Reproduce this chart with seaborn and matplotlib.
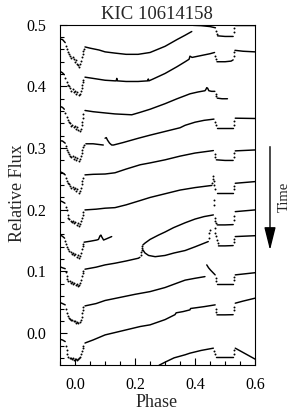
import pandas as pd
import matplotlib.pyplot as plt
from matplotlib.ticker import MultipleLocator, FormatStrFormatter
import seaborn as sns

plt.switch_backend('Agg')

# light curve segments, stacked in time (top = earliest)
# *_line: (phase, flux) points joined by a line, None = gap
# *_dots: sparse points (eclipse ingress / egress / bottom, stray points)
c1_line = [(-0.052, 0.477), (-0.042, 0.476), (-0.033, 0.471), None,
           (0.033, 0.464), (0.05, 0.462), (0.08, 0.459), (0.10, 0.456), (0.133, 0.454), (0.17, 0.452),
           (0.21, 0.452), (0.25, 0.455), (0.30, 0.465), (0.34, 0.476), (0.367, 0.483), (0.389, 0.489), None,
           (0.394, 0.499), (0.42, 0.4985), (0.45, 0.497), (0.468, 0.495), None,
           (0.475, 0.482), (0.50, 0.481), (0.527, 0.481), None,
           (0.533, 0.4995), (0.60, 0.4995)]
c1_dots = [(-0.030, 0.466), (-0.027, 0.460), (-0.024, 0.456), (-0.019, 0.452), (-0.016, 0.449),
           (-0.012, 0.446), (-0.008, 0.448), (-0.004, 0.445), (0.000, 0.440), (0.004, 0.443),
           (0.008, 0.437), (0.011, 0.434), (0.014, 0.432), (0.018, 0.436), (0.021, 0.441),
           (0.023, 0.447), (0.025, 0.452), (0.027, 0.457), (0.029, 0.461),
           (0.470, 0.490), (0.472, 0.485), (0.529, 0.488), (0.531, 0.495)]

c2_line = [(-0.052, 0.425), (-0.042, 0.422), (-0.036, 0.419), None,
           (0.033, 0.415), (0.06, 0.413), (0.10, 0.410), (0.133, 0.409), (0.137, 0.409), (0.139, 0.413),
           (0.141, 0.409), (0.17, 0.408), (0.21, 0.408), (0.242, 0.409), (0.244, 0.412), (0.246, 0.409),
           (0.26, 0.412), (0.30, 0.421), (0.34, 0.432), (0.367, 0.440), (0.380, 0.444), (0.383, 0.449),
           (0.39, 0.447), (0.42, 0.450), (0.45, 0.453), (0.465, 0.455), None,
           (0.473, 0.440), (0.50, 0.440), (0.520, 0.441), (0.527, 0.443), None,
           (0.533, 0.4585), (0.56, 0.457), (0.60, 0.456)]
c2_dots = [(-0.032, 0.414), (-0.028, 0.407), (-0.024, 0.402), (-0.020, 0.400), (-0.016, 0.397),
           (-0.012, 0.393), (-0.008, 0.395), (-0.004, 0.391), (0.000, 0.393), (0.004, 0.388),
           (0.008, 0.391), (0.012, 0.386), (0.016, 0.388), (0.019, 0.392), (0.022, 0.397),
           (0.024, 0.402), (0.026, 0.407), (0.028, 0.411),
           (0.468, 0.450), (0.470, 0.445), (0.529, 0.449), (0.531, 0.455)]

c3_line = [(-0.052, 0.368), (-0.042, 0.366), (-0.036, 0.363), None,
           (0.033, 0.361), (0.06, 0.359), (0.10, 0.357), (0.133, 0.3554), (0.189, 0.354), (0.217, 0.358),
           (0.25, 0.363), (0.30, 0.372), (0.34, 0.380), (0.367, 0.385), (0.383, 0.388), (0.41, 0.391),
           (0.433, 0.393), (0.436, 0.395), (0.439, 0.398), (0.442, 0.397), (0.446, 0.393), (0.455, 0.392),
           (0.466, 0.392), None,
           (0.474, 0.381), (0.49, 0.380), (0.508, 0.380)]
c3_dots = [(-0.032, 0.357), (-0.028, 0.351), (-0.025, 0.345), (-0.021, 0.342), (-0.017, 0.340),
           (-0.013, 0.336), (-0.009, 0.338), (-0.005, 0.334), (-0.001, 0.336), (0.003, 0.331),
           (0.007, 0.334), (0.011, 0.329), (0.015, 0.327), (0.019, 0.331), (0.022, 0.337),
           (0.024, 0.343), (0.026, 0.349), (0.028, 0.355),
           (0.469, 0.388), (0.471, 0.384)]

c4_line = [(-0.052, 0.312), (-0.042, 0.3115), (-0.033, 0.308), None,
           (0.036, 0.307), (0.06, 0.307), (0.094, 0.305), None,
           (0.100, 0.316), (0.104, 0.317), (0.108, 0.313), (0.115, 0.308), (0.122, 0.305), (0.128, 0.305),
           (0.16, 0.309), (0.211, 0.316), (0.25, 0.321), (0.30, 0.327), (0.35, 0.333), (0.367, 0.337),
           (0.40, 0.342), (0.43, 0.345), (0.463, 0.347), None,
           (0.472, 0.332), (0.50, 0.332), (0.527, 0.332), None,
           (0.534, 0.3485), (0.60, 0.348)]
c4_dots = [(-0.030, 0.303), (-0.027, 0.297), (-0.024, 0.294), (-0.020, 0.291), (-0.016, 0.288),
           (-0.012, 0.285), (-0.008, 0.288), (-0.004, 0.283), (0.000, 0.286), (0.004, 0.281),
           (0.008, 0.284), (0.012, 0.279), (0.016, 0.282), (0.019, 0.287), (0.022, 0.292),
           (0.024, 0.297), (0.026, 0.301), (0.029, 0.305),
           (0.466, 0.342), (0.469, 0.337), (0.529, 0.338), (0.531, 0.344)]

c5_line = [(-0.052, 0.262), (-0.042, 0.260), (-0.033, 0.2566), None,
           (0.033, 0.2566), (0.06, 0.2575), (0.10, 0.258), (0.133, 0.260), (0.17, 0.266), (0.217, 0.273),
           (0.25, 0.276), (0.30, 0.281), (0.35, 0.287), (0.40, 0.292), (0.461, 0.296), None,
           (0.471, 0.281), (0.50, 0.280), (0.527, 0.280), None,
           (0.534, 0.2955), (0.60, 0.297)]
c5_dots = [(-0.030, 0.252), (-0.027, 0.247), (-0.024, 0.244), (-0.020, 0.242), (-0.016, 0.238),
           (-0.012, 0.235), (-0.008, 0.237), (-0.004, 0.233), (0.000, 0.236), (0.004, 0.231),
           (0.008, 0.233), (0.012, 0.228), (0.016, 0.231), (0.019, 0.236), (0.022, 0.242),
           (0.024, 0.247), (0.027, 0.252),
           (0.465, 0.291), (0.468, 0.286), (0.529, 0.286), (0.531, 0.292)]

c6_line = [(-0.052, 0.215), (-0.042, 0.213), (-0.034, 0.2107), None,
           (0.033, 0.1998), (0.07, 0.201), (0.10, 0.2026), (0.133, 0.2035), (0.17, 0.208), (0.217, 0.215),
           (0.25, 0.220), (0.30, 0.226), (0.35, 0.232), (0.40, 0.236), (0.456, 0.2395), None,
           (0.472, 0.227), (0.50, 0.227), (0.527, 0.227), None,
           (0.534, 0.243), (0.60, 0.2457)]
c6_dots = [(-0.031, 0.205), (-0.028, 0.199), (-0.025, 0.192), (-0.023, 0.187), (-0.019, 0.185),
           (-0.015, 0.182), (-0.011, 0.180), (-0.007, 0.182), (-0.003, 0.178), (0.001, 0.180),
           (0.005, 0.176), (0.009, 0.178), (0.013, 0.174), (0.017, 0.177), (0.020, 0.182),
           (0.023, 0.187), (0.025, 0.192), (0.027, 0.197),
           (0.458, 0.244), (0.459, 0.250), (0.461, 0.254), (0.463, 0.247), (0.464, 0.240),
           (0.466, 0.233), (0.462, 0.216), (0.463, 0.207), (0.529, 0.233), (0.531, 0.239)]

c7_line = [(-0.052, 0.160), (-0.042, 0.157), (-0.035, 0.154), None,
           (0.030, 0.1475), (0.05, 0.149), (0.072, 0.151), (0.078, 0.152), (0.083, 0.1577), (0.086, 0.159),
           (0.089, 0.156), (0.095, 0.151), (0.105, 0.153), (0.122, 0.1566), None,
           (0.226, 0.143), (0.233, 0.146), (0.25, 0.152), (0.278, 0.159), (0.30, 0.164), (0.328, 0.171),
           (0.367, 0.179), (0.40, 0.185), (0.43, 0.189), (0.461, 0.1917), None,
           (0.474, 0.1755), (0.50, 0.1755), (0.527, 0.176), None,
           (0.534, 0.197), (0.60, 0.1998)]
c7_dots = [(-0.032, 0.150), (-0.029, 0.145), (-0.026, 0.140), (-0.023, 0.136), (-0.019, 0.133),
           (-0.015, 0.131), (-0.011, 0.128), (-0.007, 0.130), (-0.003, 0.126), (0.001, 0.128),
           (0.005, 0.124), (0.009, 0.127), (0.013, 0.1215), (0.017, 0.125), (0.020, 0.130),
           (0.023, 0.136), (0.025, 0.141), (0.027, 0.145),
           (0.222, 0.138), (0.223, 0.142),
           (0.465, 0.187), (0.468, 0.182), (0.470, 0.178), (0.529, 0.183), (0.531, 0.190)]

c8_line = [(-0.052, 0.108), (-0.042, 0.106), (-0.033, 0.1045), None,
           (0.033, 0.1037), (0.07, 0.107), (0.10, 0.1107), (0.133, 0.1134), (0.17, 0.117), (0.211, 0.1215),
           (0.216, 0.123), None,
           (0.226, 0.135), (0.233, 0.130), (0.245, 0.126), (0.267, 0.124), (0.30, 0.126), (0.33, 0.130),
           (0.367, 0.134), (0.40, 0.140), (0.444, 0.1485), None,
           (0.478, 0.1415), (0.50, 0.1415), (0.527, 0.142), None,
           (0.534, 0.1566), (0.60, 0.158)]
c8_dots = [(-0.030, 0.099), (-0.028, 0.093), (-0.026, 0.088), (-0.022, 0.085), (-0.018, 0.084),
           (-0.014, 0.082), (-0.010, 0.083), (-0.006, 0.080), (-0.002, 0.081), (0.002, 0.078),
           (0.006, 0.079), (0.010, 0.076), (0.014, 0.078), (0.018, 0.082), (0.021, 0.087),
           (0.023, 0.092), (0.025, 0.097), (0.028, 0.101),
           (0.219, 0.127), (0.221, 0.131), (0.222, 0.135),
           (0.446, 0.155), (0.448, 0.162), (0.449, 0.168), (0.466, 0.170), (0.468, 0.163),
           (0.470, 0.157), (0.472, 0.151), (0.475, 0.146), (0.529, 0.148), (0.531, 0.153)]

c9_line = [(-0.052, 0.050), (-0.042, 0.048), (-0.033, 0.0459), None,
           (0.033, 0.0442), (0.07, 0.048), (0.10, 0.053), (0.15, 0.058), (0.20, 0.063), (0.25, 0.0674),
           (0.30, 0.074), (0.35, 0.083), (0.367, 0.086), (0.40, 0.089), (0.433, 0.0917), None,
           (0.439, 0.1107), (0.445, 0.106), (0.452, 0.102), (0.460, 0.098), (0.467, 0.0945), None,
           (0.473, 0.080), (0.50, 0.080), (0.527, 0.080), None,
           (0.534, 0.0945), (0.60, 0.098)]
c9_dots = [(-0.030, 0.040), (-0.028, 0.0334), (-0.025, 0.028), (-0.021, 0.024), (-0.017, 0.023),
           (-0.013, 0.021), (-0.009, 0.022), (-0.005, 0.020), (-0.001, 0.019), (0.003, 0.017),
           (0.007, 0.018), (0.011, 0.016), (0.015, 0.018), (0.019, 0.021), (0.022, 0.027),
           (0.024, 0.033), (0.026, 0.038), (0.028, 0.042),
           (0.469, 0.090), (0.471, 0.085), (0.529, 0.086), (0.531, 0.091)]

c10_line = [(-0.052, -0.0097), (-0.042, -0.011), (-0.033, -0.0136), None,
            (0.033, -0.016), (0.037, -0.0152), (0.06, -0.011), (0.10, -0.0028), (0.15, 0.003),
            (0.217, 0.0108), (0.25, 0.0135), (0.30, 0.022), (0.333, 0.030), (0.337, 0.033), (0.36, 0.035),
            (0.383, 0.0378), (0.385, 0.040), (0.40, 0.041), (0.43, 0.043), (0.467, 0.0459), None,
            (0.473, 0.0297), (0.50, 0.0297), (0.527, 0.030), None,
            (0.534, 0.0486), (0.56, 0.052), (0.60, 0.0567)]
c10_dots = [(-0.030, -0.020), (-0.028, -0.027), (-0.026, -0.033), (-0.022, -0.038), (-0.018, -0.040),
            (-0.014, -0.041), (-0.010, -0.042), (-0.006, -0.041), (-0.002, -0.043), (0.002, -0.042),
            (0.006, -0.043), (0.010, -0.042), (0.014, -0.040), (0.018, -0.038), (0.021, -0.034),
            (0.023, -0.029), (0.025, -0.024), (0.027, -0.020),
            (0.469, 0.040), (0.471, 0.034), (0.529, 0.037), (0.531, 0.043)]

c11_line = [(0.28, -0.052), (0.30, -0.047), (0.33, -0.040), (0.367, -0.035), (0.383, -0.0324),
            (0.42, -0.028), (0.461, -0.0243), None,
            (0.469, -0.039), (0.50, -0.039), (0.527, -0.039), None,
            (0.534, -0.0243), (0.60, -0.042)]
c11_dots = [(0.464, -0.029), (0.466, -0.034), (0.529, -0.033), (0.531, -0.028)]

segments = [(c1_line, c1_dots), (c2_line, c2_dots), (c3_line, c3_dots), (c4_line, c4_dots),
            (c5_line, c5_dots), (c6_line, c6_dots), (c7_line, c7_dots), (c8_line, c8_dots),
            (c9_line, c9_dots), (c10_line, c10_dots), (c11_line, c11_dots)]


def build_frames(segs):
    rows, dots = [], []
    piece = 0
    for line, pts in segs:
        for p in line:
            if p is None:
                piece += 1
                continue
            rows.append((p[0], p[1], piece))
        piece += 1
        dots.extend(pts)
    return (pd.DataFrame(rows, columns=['phase', 'flux', 'piece']),
            pd.DataFrame(dots, columns=['phase', 'flux']))


lines, dots = build_frames(segments)

sns.set_style('ticks')
plt.rcParams['font.family'] = ['Liberation Serif', 'DejaVu Serif']

fig = plt.figure(figsize=(2.99, 4.19), dpi=100)
ax = fig.add_axes([0.199, 0.129, 0.654, 0.812])

sns.lineplot(data=lines, x='phase', y='flux', units='piece', estimator=None, sort=False,
             color='k', lw=1.05, ax=ax, legend=False)
sns.scatterplot(data=dots, x='phase', y='flux', color='k', s=2, linewidth=0, ax=ax, legend=False)

ax.set_xlim(-0.052, 0.6)
ax.set_ylim(-0.0515, 0.5)
ax.set_xticks([0.0, 0.2, 0.4, 0.6])
ax.set_yticks([0.0, 0.1, 0.2, 0.3, 0.4, 0.5])
ax.xaxis.set_minor_locator(MultipleLocator(0.05))
ax.yaxis.set_minor_locator(MultipleLocator(0.02))
ax.xaxis.set_major_formatter(FormatStrFormatter('%.1f'))
ax.yaxis.set_major_formatter(FormatStrFormatter('%.1f'))
ax.tick_params(which='both', direction='in', top=False, right=False, width=0.8,
               labelsize=11.5, colors='k')
ax.tick_params(which='major', length=5)
ax.tick_params(which='minor', length=3)
ax.tick_params(axis='y', pad=9.5)
ax.tick_params(axis='x', pad=9)
for s in ax.spines.values():
    s.set_linewidth(0.8)
    s.set_color('k')

ax.set_title('KIC 10614158', fontsize=13.5, pad=4)
ax.set_xlabel('Phase', fontsize=13)
ax.set_ylabel('Relative Flux', fontsize=13)
ax.xaxis.set_label_coords(0.497, -0.085)
ax.yaxis.set_label_coords(-0.172, 0.506)

# time arrow on the right
ax.annotate('', xy=(0.903, 0.403), xytext=(0.903, 0.650), xycoords='figure fraction',
            textcoords='figure fraction',
            arrowprops=dict(arrowstyle='-|>,head_length=1.4,head_width=0.35',
                            mutation_scale=10, color='k', lw=1.0, shrinkA=0, shrinkB=0))
fig.text(0.950, 0.530, 'Time', rotation=90, fontsize=10.5, ha='center', va='center')

fig.savefig('out.png', dpi=100)
